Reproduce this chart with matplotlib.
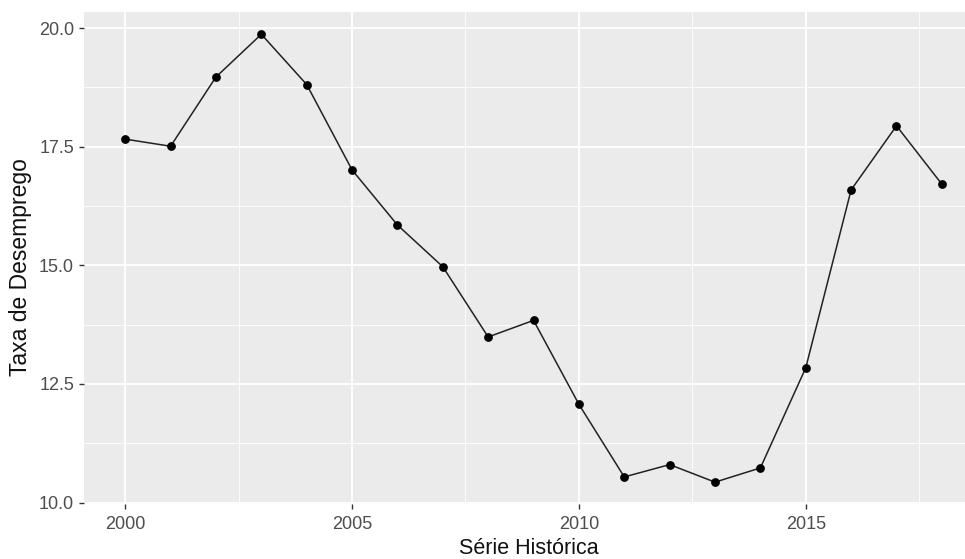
import matplotlib
matplotlib.use("Agg")
import matplotlib.pyplot as plt
from matplotlib.ticker import MultipleLocator

anos = [2000, 2001, 2002, 2003, 2004, 2005, 2006, 2007, 2008, 2009,
        2010, 2011, 2012, 2013, 2014, 2015, 2016, 2017, 2018]
taxa = [17.66, 17.51, 18.97, 19.87, 18.81, 17.01, 15.85, 14.97, 13.49, 13.84,
        12.07, 10.54, 10.80, 10.43, 10.73, 12.84, 16.59, 17.94, 16.71]
x_ticks = [2000, 2005, 2010, 2015]
y_ticks = [10.0, 12.5, 15.0, 17.5, 20.0]

plt.rcParams['font.family'] = ['Liberation Sans', 'DejaVu Sans']

W, H = 965, 559
L, R, T, B = 83.5, 965.0, 11.5, 503.5
fig = plt.figure(figsize=(W / 100, H / 100), dpi=100)
fig.patch.set_facecolor('white')
ax = fig.add_axes([L / W, 1 - B / H, (R - L) / W, (B - T) / H])
ax.set_facecolor('#EBEBEB')

ax.set_xlim(1999.08, 2018.51)
ax.set_ylim(9.98, 20.35)
ax.set_xticks(x_ticks)
ax.set_yticks(y_ticks)
ax.set_xticklabels([str(v) for v in x_ticks])
ax.set_yticklabels([f"{v:.1f}" for v in y_ticks])
ax.xaxis.set_minor_locator(MultipleLocator(2.5))
ax.yaxis.set_minor_locator(MultipleLocator(1.25))

ax.grid(which='major', color='white', linewidth=1.3)
ax.grid(which='minor', color='white', linewidth=0.6)
ax.set_axisbelow(True)
for s in ax.spines.values():
    s.set_visible(False)

ax.tick_params(axis='both', which='major', length=3.6, width=1, color='#333333',
               labelcolor='#4D4D4D', labelsize=13)
ax.tick_params(axis='x', which='major', pad=5.5)
ax.tick_params(axis='y', which='major', pad=3.2)
ax.tick_params(axis='both', which='minor', length=0)

ax.plot(anos, taxa, color='#222222', linewidth=1.1, zorder=3)
ax.scatter(anos, taxa, color='black', s=28, zorder=4)

ax.set_xlabel('Série Histórica', fontsize=15.5, color='#111111')
ax.set_ylabel('Taxa de Desemprego', fontsize=16.5, color='#111111')
ax.xaxis.set_label_coords((529 - L) / (R - L), (B - 537.5) / (B - T))
ax.yaxis.set_label_coords((32 - L) / (R - L), (B - 267) / (B - T))

fig.savefig('out.png', dpi=100)
